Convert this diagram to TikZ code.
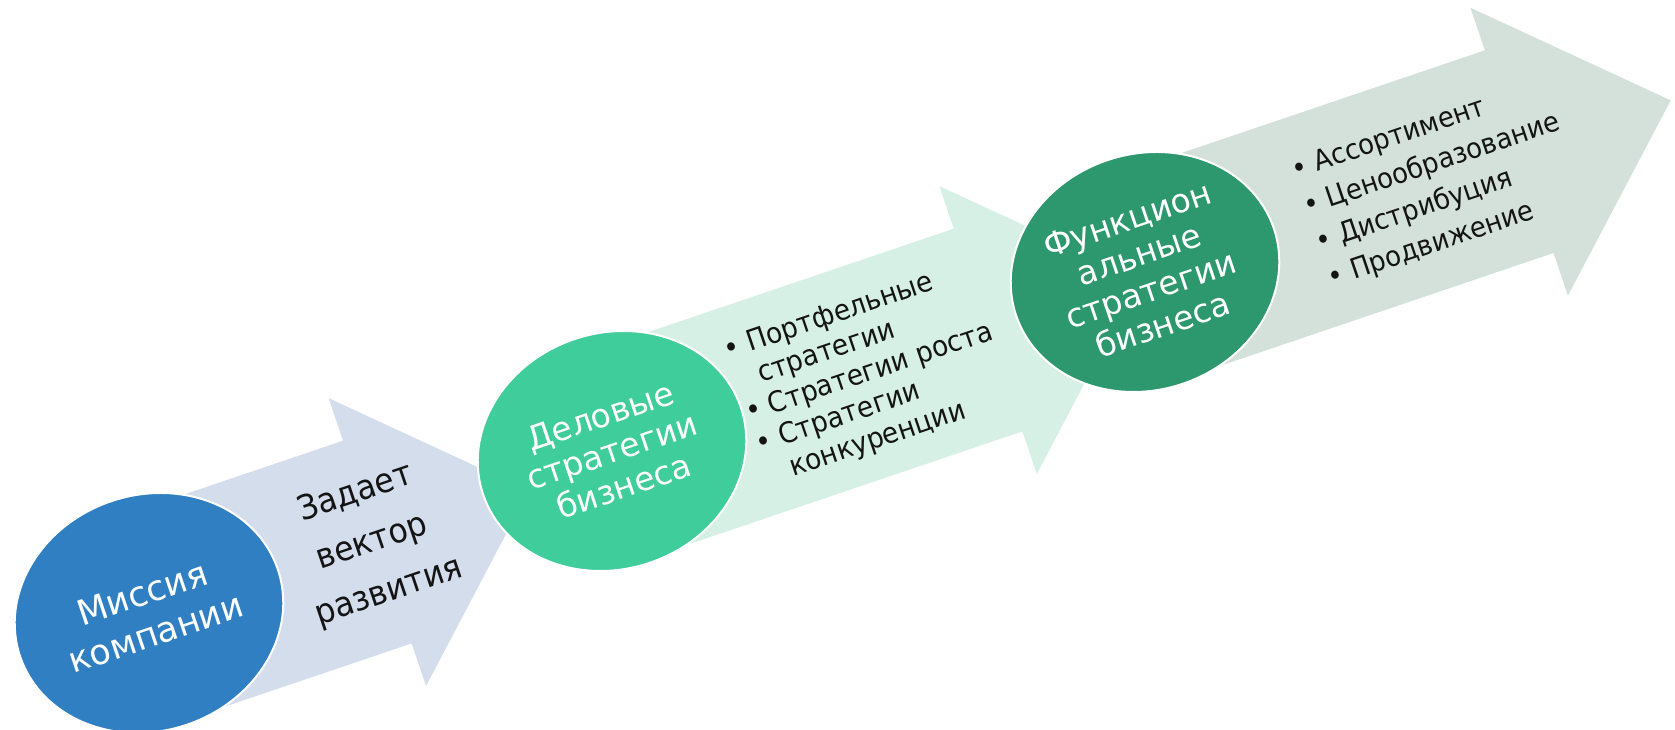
\documentclass[tikz,border=0pt]{standalone}
\usepackage{fontspec}
\setmainfont{DejaVu Sans}
\newfontfamily\narrowfont[FakeStretch=0.93]{DejaVu Sans}
\usetikzlibrary{shapes.geometric}
\definecolor{blueC}{RGB}{47,127,194}
\definecolor{arrowA}{RGB}{212,221,236}
\definecolor{greenB}{RGB}{64,205,156}
\definecolor{arrowB}{RGB}{214,240,229}
\definecolor{greenC}{RGB}{45,152,110}
\definecolor{arrowC}{RGB}{211,225,218}
\definecolor{txt}{RGB}{20,20,20}
\tikzset{
  circ/.style={ellipse, minimum width=272pt, minimum height=236pt, inner sep=0pt,
    draw=white, line width=2pt, text=white, align=center,
    font=\fontsize{33}{37}\selectfont},
  midlbl/.style={inner sep=0pt, align=center, text=txt, font=\narrowfont\fontsize{34}{52}\selectfont},
  blistB/.style={inner sep=0pt, align=left, text=txt, font=\narrowfont\fontsize{28.5}{33}\selectfont},
  blistC/.style={inner sep=0pt, align=left, text=txt, font=\narrowfont\fontsize{28}{38}\selectfont}
}
\begin{document}
\begin{tikzpicture}[x=1pt,y=1pt]
\useasboundingbox (0,0) rectangle (1675,730);
% arrows
\begin{scope}[shift={(149,117)},rotate=18.7]
\fill[arrowA] (0,101) -- (239,101) -- (239,146) -- (399,-6) -- (239,-158) -- (239,-113) -- (0,-113) -- cycle;
\end{scope}
\begin{scope}[shift={(612,279)},rotate=18.7]
\fill[arrowB] (0,101) -- (395,101) -- (395,146) -- (555,-6) -- (395,-158) -- (395,-113) -- (0,-113) -- cycle;
\end{scope}
\begin{scope}[shift={(1145,458)},rotate=18.7]
\fill[arrowC] (0,101) -- (393,101) -- (393,146) -- (553,-6) -- (393,-158) -- (393,-113) -- (0,-113) -- cycle;
\end{scope}
% circles
\node[circ, fill=blueC, rotate=18.7, font=\fontsize{35}{42}\selectfont] (c1) at (149,117) {Миссия\\компании};
\node[circ, fill=greenB, rotate=18.7] (c2) at (612,279) {Деловые\\стратегии\\бизнеса};
\node[circ, fill=greenC, rotate=18.7] (c3) at (1145,458) {Функцион\\альные\\стратегии\\бизнеса};
% texts
\begin{scope}[shift={(149,117)},rotate=18.7,transform shape]
\node[midlbl] (t1) at (234,-5) {Задает\\вектор\\развития};
\end{scope}
\begin{scope}[shift={(612,279)},rotate=18.7,transform shape]
\node[blistB, anchor=west] (t2) at (139,-9) {•\ Портфельные\\\phantom{•\ }стратегии\\•\ Стратегии роста\\•\ Стратегии\\\phantom{•\ }конкуренции};
\end{scope}
\begin{scope}[shift={(1145,458)},rotate=18.7,transform shape]
\node[blistC, anchor=west] (t3) at (172,-10) {•\ Ассортимент\\•\ Ценообразование\\•\ Дистрибуция\\•\ Продвижение};
\end{scope}
\end{tikzpicture}
\end{document}
